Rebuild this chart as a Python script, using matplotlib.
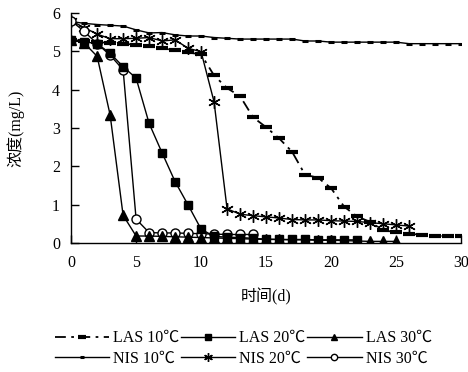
import matplotlib
matplotlib.use("Agg")
import matplotlib.pyplot as plt

plt.rcParams['font.family'] = ['Liberation Serif', 'Noto Sans CJK SC']

# data (days, mg/L)
las10_days = list(range(0, 31))
las10 = [5.30, 5.27, 5.24, 5.22, 5.20, 5.17, 5.13, 5.08, 5.03, 4.97, 4.92,
         4.37, 4.04, 3.83, 3.28, 3.02, 2.73, 2.38, 1.78, 1.70, 1.43,
         0.95, 0.69, 0.55, 0.33, 0.28, 0.24, 0.21, 0.19, 0.17, 0.17]

las20_days = list(range(0, 23))
las20 = [5.30, 5.25, 5.20, 4.95, 4.60, 4.30, 3.12, 2.35, 1.60, 0.99, 0.36,
         0.17, 0.15, 0.14, 0.12, 0.10, 0.09, 0.09, 0.09, 0.08, 0.08, 0.08, 0.08]

las30_days = list(range(0, 26))
las30 = [5.30, 5.22, 4.87, 3.34, 0.72, 0.18, 0.18, 0.17, 0.16, 0.15, 0.14,
         0.13, 0.12, 0.11, 0.10, 0.09, 0.09, 0.08, 0.08, 0.07, 0.07, 0.06,
         0.05, 0.04, 0.04, 0.04]

nis10_days = list(range(0, 31))
nis10 = [5.78, 5.73, 5.70, 5.68, 5.66, 5.56, 5.48, 5.49, 5.43, 5.40, 5.40,
         5.36, 5.34, 5.32, 5.32, 5.32, 5.32, 5.32, 5.27, 5.27, 5.24,
         5.24, 5.24, 5.24, 5.24, 5.24, 5.20, 5.20, 5.20, 5.20, 5.20]

nis20_days = list(range(0, 27))
nis20 = [5.80, 5.62, 5.45, 5.33, 5.33, 5.34, 5.36, 5.27, 5.30, 5.08, 4.99,
         3.68, 0.89, 0.75, 0.71, 0.68, 0.65, 0.61, 0.60, 0.60, 0.58,
         0.57, 0.56, 0.53, 0.50, 0.47, 0.44]

nis30_days = list(range(0, 15))
nis30 = [5.80, 5.52, 5.20, 4.90, 4.52, 0.62, 0.27, 0.26, 0.26, 0.25, 0.24,
         0.23, 0.22, 0.22, 0.22]

fig = plt.figure(figsize=(4.68, 3.72), dpi=100)
ax = fig.add_axes([0.152, 0.347, 0.833, 0.618])

lw = 1.0
h_las10, = ax.plot(las10_days, las10, color='black', lw=1.3,
                   ls=(0, (6, 3, 1.5, 3)), marker='_', ms=9, mew=3,
                   label='LAS 10℃')
h_nis10, = ax.plot(nis10_days, nis10, color='black', lw=lw, marker='_',
                   ms=5, mew=2.2, label='NIS 10℃')
h_nis20, = ax.plot(nis20_days, nis20, color='black', lw=lw, marker=(6, 2, 0),
                   ms=9, mew=1.0, label='NIS 20℃')
h_nis30, = ax.plot(nis30_days, nis30, color='black', lw=lw, marker='o',
                   ms=6.5, mfc='white', mew=1.0, label='NIS 30℃')
h_las30, = ax.plot(las30_days, las30, color='black', lw=lw, marker='^',
                   ms=6.5, label='LAS 30℃')
h_las20, = ax.plot(las20_days, las20, color='black', lw=lw, marker='s',
                   ms=6, label='LAS 20℃')

ax.set_xlim(0, 30)
ax.set_ylim(0, 6)
ax.set_xticks([0, 5, 10, 15, 20, 25, 30])
ax.set_yticks([0, 1, 2, 3, 4, 5, 6])
for s in ['top', 'right']:
    ax.spines[s].set_visible(False)
for s in ['left', 'bottom']:
    ax.spines[s].set_linewidth(1.0)
ax.tick_params(direction='in', length=6, width=1.0, labelsize=11.5,
               pad=8)
ax.tick_params(axis='x', pad=9)

ax.set_xlabel('时间(d)', fontsize=11.5, labelpad=12)
ax.set_ylabel('浓度(mg/L)', fontsize=11.5, labelpad=20)

handles = [h_las10, h_nis10, h_las20, h_nis20, h_las30, h_nis30]
fig.legend(handles=handles, labels=[h.get_label() for h in handles],
           ncol=3, loc='center', bbox_to_anchor=(0.52, 0.063),
           frameon=False, fontsize=11.5, handlelength=3.4,
           handletextpad=0.25, columnspacing=0.1, labelspacing=0.3,
           borderpad=0.1, markerscale=0.7)

fig.savefig('out.png', dpi=100)
